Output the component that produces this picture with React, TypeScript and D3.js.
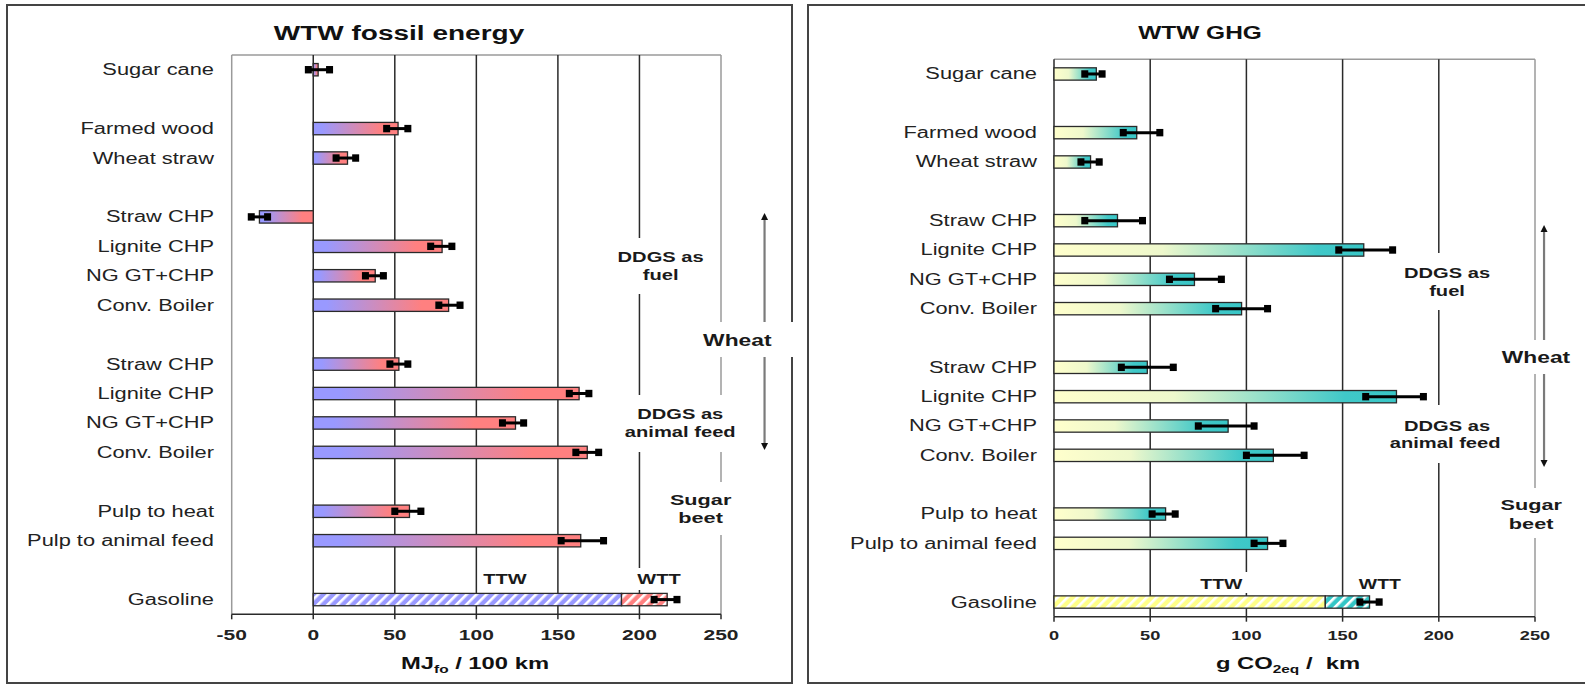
import React from "react";
import * as d3 from "d3";

// ---------- data ----------
const rowLabels = [
  "Sugar cane", "", "Farmed wood", "Wheat straw", "",
  "Straw CHP", "Lignite CHP", "NG GT+CHP", "Conv. Boiler", "",
  "Straw CHP", "Lignite CHP", "NG GT+CHP", "Conv. Boiler", "",
  "Pulp to heat", "Pulp to animal feed", "", "Gasoline",
];

const fossilValues = [3, null, 52, 21, null, -33, 79, 38, 83, null, 52.5, 163, 124, 168, null, 59, 164, null, null];
const fossilErrLow = [-3, null, 45, 14, null, -38, 72, 32, 77, null, 47, 157, 116, 161, null, 50, 152, null, 209];
const fossilErrHigh = [10, null, 58, 26, null, -28, 85, 43, 90, null, 58, 169, 129, 175, null, 66, 178, null, 223];
const fossilGasoline = [189, 217]; // TTW end, WTW total

const ghgValues = [22, null, 43, 19, null, 33, 161, 73, 97.5, null, 48.5, 178, 90.5, 114, null, 58, 111, null, null];
const ghgErrLow = [16, null, 36, 14, null, 16, 148, 60, 84, null, 35, 162, 75, 100, null, 51, 104, null, 159];
const ghgErrHigh = [25, null, 55, 23.5, null, 46, 176, 87, 111, null, 62, 192, 104, 130, null, 63, 119, null, 169];
const ghgGasoline = [141, 164];

const fossilTicks = [-50, 0, 50, 100, 150, 200, 250];
const ghgTicks = [0, 50, 100, 150, 200, 250];

const FONT = "'Liberation Sans', Arial, Helvetica, sans-serif";
const SX = 1.4;

function T({ x, y, size, weight = "normal", anchor = "middle", fill = "#1a1a1a", children }: any) {
  return (
    <text
      transform={`translate(${x},${y}) scale(${SX},1)`}
      textAnchor={anchor}
      fontSize={size}
      fontWeight={weight}
      fontFamily={FONT}
      fill={fill}
      dy="0.35em"
    >
      {children}
    </text>
  );
}

function Panel(p: any) {
  const x = d3.scaleLinear().domain(p.domain).range(p.xRange);
  const y = d3
    .scaleBand<number>()
    .domain(rowLabels.map((_, i) => i))
    .range(p.yRange)
    .paddingInner(0.58)
    .paddingOuter(0.29);
  const yc = (i: number) => (y(i) as number) + y.bandwidth() / 2;
  const [x0, x1] = p.xRange;
  const [yTop, yBot] = p.yRange;
  const gi = rowLabels.length - 1;
  const dark = "#2a2a2a";
  const gray = "#9a9a9a";

  return (
    <g>
      <line x1={x0} x2={x1} y1={yTop} y2={yTop} stroke={gray} strokeWidth={1.5} />
      <line x1={x0} x2={x0} y1={yTop} y2={yBot} stroke={p.leftGray ? gray : dark} strokeWidth={1.5} />
      <line x1={x1} x2={x1} y1={yTop} y2={yBot} stroke={gray} strokeWidth={1.5} />
      {p.ticks
        .filter((t: number) => t !== p.domain[0] && t !== p.domain[1])
        .map((t: number) => (
          <line key={t} x1={x(t)} x2={x(t)} y1={yTop} y2={yBot} stroke={dark} strokeWidth={1.5} />
        ))}
      <line x1={x0} x2={x1} y1={yBot} y2={yBot} stroke={dark} strokeWidth={1.5} />
      {p.ticks.map((t: number) => (
        <g key={t}>
          <line x1={x(t)} x2={x(t)} y1={yBot} y2={yBot + 5} stroke={dark} strokeWidth={1.5} />
          <T x={x(t)} y={yBot + p.tickDy} size={p.tickSize} weight="bold" fill="#222">
            {t}
          </T>
        </g>
      ))}

      {p.values.map((v: number | null, i: number) =>
        v == null ? null : (
          <rect
            key={i}
            x={x(Math.min(0, v))}
            width={Math.abs(x(v) - x(0))}
            y={y(i)}
            height={y.bandwidth()}
            fill={`url(#${p.gradId})`}
            stroke={dark}
            strokeWidth={1.3}
          />
        )
      )}
      <rect x={x(0)} width={x(p.gasoline[0]) - x(0)} y={y(gi)} height={y.bandwidth()} fill={`url(#${p.hatchTTW})`} stroke={dark} strokeWidth={1.3} />
      <rect x={x(p.gasoline[0])} width={x(p.gasoline[1]) - x(p.gasoline[0])} y={y(gi)} height={y.bandwidth()} fill={`url(#${p.hatchWTT})`} stroke={dark} strokeWidth={1.3} />

      {p.errLow.map((lo: number | null, i: number) => {
        const hi = p.errHigh[i];
        if (lo == null || hi == null) return null;
        const cy = yc(i);
        return (
          <g key={"e" + i}>
            <line x1={x(lo)} x2={x(hi)} y1={cy} y2={cy} stroke="#000" strokeWidth={3} />
            <rect x={x(lo) - 3.5} y={cy - 3.7} width={7} height={7.4} fill="#000" />
            <rect x={x(hi) - 3.5} y={cy - 3.7} width={7} height={7.4} fill="#000" />
          </g>
        );
      })}

      {rowLabels.map((l, i) =>
        l ? (
          <T key={"l" + i} x={p.labelX} y={yc(i)} size={15.6} anchor="end" fill="#222">
            {l}
          </T>
        ) : null
      )}

      <T x={p.titleX} y={p.titleY} size={p.titleSize} weight="bold" fill="#111">
        {p.title}
      </T>
      <T x={p.axisTitleX} y={p.axisTitleY} size={17} weight="bold" fill="#111">
        {p.axisTitle}
      </T>

      {p.boxes.map((b: any, k: number) => (
        <rect key={"b" + k} x={b[0]} y={b[1]} width={b[2] - b[0]} height={b[3] - b[1]} fill="#fff" />
      ))}
      <line x1={x(p.arrow.xv)} x2={x(p.arrow.xv)} y1={p.arrow.y0 + 4} y2={p.arrow.y1 - 4} stroke="#7a7a7a" strokeWidth={2.2} />
      <path d={`M${x(p.arrow.xv)},${p.arrow.y0} l-3.5,7 l7,0 z`} fill="#111" />
      <path d={`M${x(p.arrow.xv)},${p.arrow.y1} l-3.5,-7 l7,0 z`} fill="#111" />
      {p.wheatBox && (
        <rect x={p.wheatBox[0]} y={p.wheatBox[1]} width={p.wheatBox[2] - p.wheatBox[0]} height={p.wheatBox[3] - p.wheatBox[1]} fill="#fff" />
      )}
      {p.labels.map((a: any, k: number) => (
        <T key={"a" + k} x={x(a.xv)} y={a.y} size={a.size} weight="bold" fill="#1a1a1a">
          {a.text}
        </T>
      ))}
    </g>
  );
}

export default function App() {
  return (
    <svg
      width={1585}
      height={685}
      style={{ position: "absolute", left: 0, top: 0, background: "#fff" }}
    >
      <defs>
        <linearGradient id="gFossil" x1="0" x2="1" y1="0" y2="0">
          <stop offset="0" stopColor="#9999ff" />
          <stop offset="0.1" stopColor="#9999ff" />
          <stop offset="0.8" stopColor="#ff8080" />
          <stop offset="1" stopColor="#ff8080" />
        </linearGradient>
        <linearGradient id="gGhg" x1="0" x2="1" y1="0" y2="0">
          <stop offset="0" stopColor="#ffffcc" />
          <stop offset="0.35" stopColor="#eef8cc" />
          <stop offset="0.85" stopColor="#40c8c8" />
          <stop offset="1" stopColor="#38c6c6" />
        </linearGradient>
        {[
          ["hBlue", "#9999ff"],
          ["hRed", "#ff8080"],
          ["hYellow", "#ffff88"],
          ["hTeal", "#33c6c6"],
        ].map(([id, c]) => (
          <pattern key={id} id={id} patternUnits="userSpaceOnUse" width={7} height={7} patternTransform="rotate(45)">
            <rect width={7} height={7} fill={c} />
            <rect x={0} width={2.6} height={7} fill="#ffffff" />
          </pattern>
        ))}
      </defs>

      <rect x={7} y={5} width={785} height={678} fill="none" stroke="#444" strokeWidth={2} />
      <rect x={808} y={5} width={800} height={678} fill="none" stroke="#444" strokeWidth={2} />

      <Panel
        domain={[-50, 250]}
        xRange={[231.7, 721]}
        yRange={[55, 614.3]}
        ticks={fossilTicks}
        leftGray={true}
        tickDy={20}
        tickSize={15}
        values={fossilValues}
        errLow={fossilErrLow}
        errHigh={fossilErrHigh}
        gasoline={fossilGasoline}
        gradId="gFossil"
        hatchTTW="hBlue"
        hatchWTT="hRed"
        labelX={214}
        title="WTW fossil energy"
        titleX={399}
        titleY={33}
        titleSize={20}
        axisTitleX={475}
        axisTitleY={663}
        axisTitle={
          <>
            MJ<tspan fontSize={11} dy={4}>fo</tspan>
            <tspan dy={-4}>{"\u00a0/ 100 km"}</tspan>
          </>
        }
        boxes={[
          [610, 238, 712, 294],
          [612, 395, 748, 452],
          [664, 482, 738, 535],
          [480, 568, 531, 590],
          [633, 568, 686, 590],
        ]}
        wheatBox={[698, 322, 800, 357]}
        arrow={{ xv: 276.7, y0: 213, y1: 450 }}
        labels={[
          { text: "DDGS as", xv: 213, y: 257.3, size: 14.4 },
          { text: "fuel", xv: 213, y: 275, size: 14.4 },
          { text: "Wheat", xv: 260, y: 340.7, size: 16.3 },
          { text: "DDGS as", xv: 225, y: 414, size: 14.4 },
          { text: "animal feed", xv: 225, y: 431.7, size: 14.4 },
          { text: "Sugar", xv: 237.5, y: 499.3, size: 15.5 },
          { text: "beet", xv: 237.5, y: 517.7, size: 15.5 },
          { text: "TTW", xv: 117.5, y: 579.3, size: 14.3 },
          { text: "WTT", xv: 212, y: 579.3, size: 14.3 },
        ]}
      />

      <Panel
        domain={[0, 250]}
        xRange={[1054, 1535]}
        yRange={[59.3, 616.7]}
        ticks={ghgTicks}
        leftGray={false}
        tickDy={18.5}
        tickSize={13}
        values={ghgValues}
        errLow={ghgErrLow}
        errHigh={ghgErrHigh}
        gasoline={ghgGasoline}
        gradId="gGhg"
        hatchTTW="hYellow"
        hatchWTT="hTeal"
        labelX={1037}
        title="WTW GHG"
        titleX={1200}
        titleY={32.5}
        titleSize={17.5}
        axisTitleX={1288}
        axisTitleY={663}
        axisTitle={
          <>
            g CO<tspan fontSize={11} dy={4}>2eq</tspan>
            <tspan dy={-4}>{"\u00a0/\u00a0\u00a0km"}</tspan>
          </>
        }
        boxes={[
          [1398, 253, 1497, 310],
          [1380, 405, 1510, 463],
          [1495, 488, 1567, 538],
          [1196, 572, 1252, 593],
          [1354, 572, 1406, 593],
        ]}
        wheatBox={[1495, 340, 1580, 374]}
        arrow={{ xv: 254.7, y0: 225, y1: 467 }}
        labels={[
          { text: "DDGS as", xv: 204.3, y: 272.7, size: 14.4 },
          { text: "fuel", xv: 204.3, y: 290.7, size: 14.4 },
          { text: "Wheat", xv: 250.5, y: 357.3, size: 16.3 },
          { text: "DDGS as", xv: 204.3, y: 426, size: 14.4 },
          { text: "animal feed", xv: 203.3, y: 442.7, size: 14.4 },
          { text: "Sugar", xv: 248, y: 505, size: 15.5 },
          { text: "beet", xv: 248, y: 523.3, size: 15.5 },
          { text: "TTW", xv: 87, y: 584.3, size: 13.9 },
          { text: "WTT", xv: 169.4, y: 584.3, size: 13.9 },
        ]}
      />
    </svg>
  );
}
